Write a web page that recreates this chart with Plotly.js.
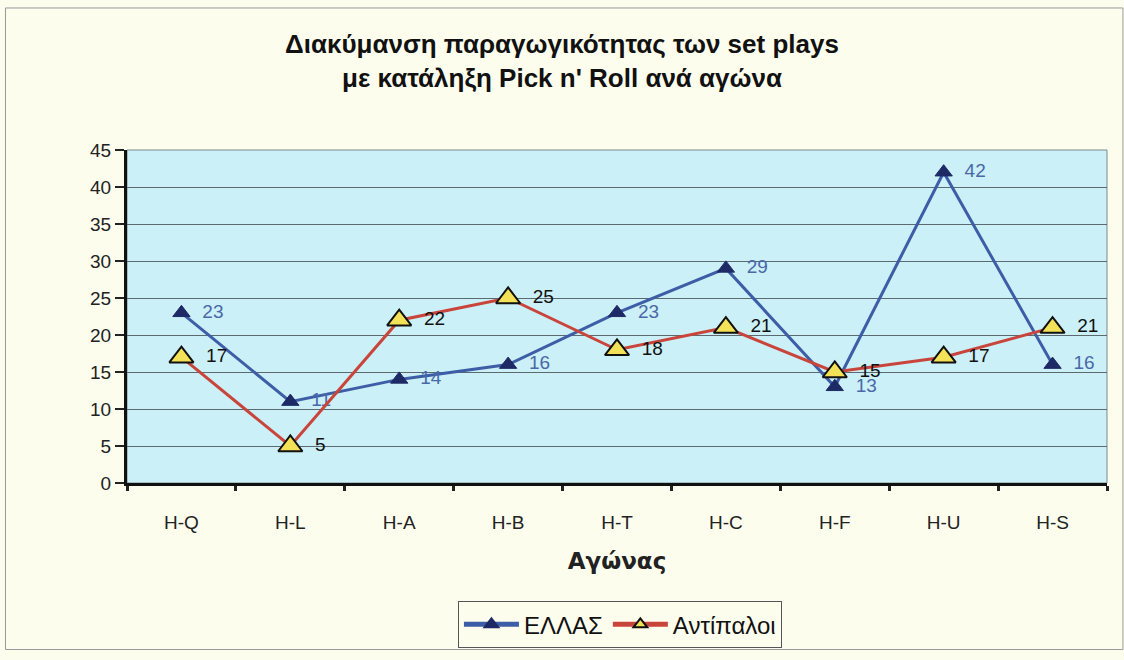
<!DOCTYPE html>
<html>
<head>
<meta charset="utf-8">
<script src="https://cdn.plot.ly/plotly-3.0.1.min.js"></script>
<style>body{margin:0;padding:0;background:#fdfdee;}</style>
</head>
<body>
<div id="chart" style="width:1124px;height:660px;"></div>
<script>
const categories = ["H-Q", "H-L", "H-A", "H-B", "H-T", "H-C", "H-F", "H-U", "H-S"];
const ellasValues = [23, 11, 14, 16, 23, 29, 13, 42, 16];
const opponentValues = [17, 5, 22, 25, 18, 21, 15, 17, 21];
const seriesNames = ["ΕΛΛΑΣ", "Αντίπαλοι"];

const traces = [
  {
    x: categories, y: ellasValues, name: seriesNames[0],
    type: "scatter", mode: "lines+markers+text",
    line: {color: "#3d5ea6", width: 3},
    marker: {symbol: "triangle-up", size: 15, color: "#1e2a66", line: {color: "#1e2a66", width: 1}},
    texttemplate: "  %{y}", textposition: "middle right",
    textfont: {family: "Liberation Sans, Arial, sans-serif", size: 19, color: "#4a68a8"},
    cliponaxis: false
  },
  {
    x: categories, y: opponentValues, name: seriesNames[1],
    type: "scatter", mode: "lines+markers+text",
    line: {color: "#c9453b", width: 3},
    marker: {symbol: "triangle-up", size: 21, color: "#f3e257", line: {color: "#111111", width: 2}},
    texttemplate: "  %{y}", textposition: "middle right",
    textfont: {family: "Liberation Sans, Arial, sans-serif", size: 19, color: "#111111"},
    cliponaxis: false
  }
];

const layout = {
  width: 1124, height: 660,
  paper_bgcolor: "#fdfdee",
  plot_bgcolor: "#cbf0f7",
  margin: {l: 127, r: 17, t: 150, b: 170},
  title: {
    text: "Διακύμανση παραγωγικότητας των set plays<br>με κατάληξη Pick n' Roll ανά αγώνα",
    font: {family: "Liberation Sans, Arial, sans-serif", size: 26, color: "#111111", weight: "bold"},
    x: 0.5, xanchor: "center", y: 0.92, yanchor: "middle", yref: "container"
  },
  xaxis: {
    type: "category",
    tickson: "boundaries",
    ticks: "outside", ticklen: 5, tickwidth: 3, tickcolor: "#222",
    showgrid: false, zeroline: false,
    showline: true, linecolor: "#111", linewidth: 3,
    tickfont: {family: "Liberation Sans, Arial, sans-serif", size: 19, color: "#222"},
    ticklabelstandoff: 20,
    title: {text: "Αγώνας", font: {family: "DejaVu Sans, Verdana, sans-serif", size: 23, color: "#222", weight: "bold"}, standoff: 22},
    range: [-0.5, 8.5]
  },
  yaxis: {
    range: [0, 45], dtick: 5,
    ticks: "outside", ticklen: 9, tickwidth: 2, tickcolor: "#222",
    showgrid: true, gridcolor: "#5a6a6e", gridwidth: 1,
    zeroline: false,
    showline: true, linecolor: "#111", linewidth: 3,
    tickfont: {family: "Liberation Sans, Arial, sans-serif", size: 19, color: "#222"}
  },
  showlegend: true,
  legend: {
    orientation: "h", x: 0.503, xanchor: "center", y: -0.355, yanchor: "top",
    bordercolor: "#555", borderwidth: 1, bgcolor: "#fdfdee",
    font: {family: "Liberation Sans, Arial, sans-serif", size: 24, color: "#111"},
    itemsizing: "constant", itemwidth: 55, tracegroupgap: 0
  },
  shapes: [
    {type: "rect", xref: "paper", yref: "paper", x0: 0, x1: 1, y0: 0, y1: 1, line: {color: "#7a8a8a", width: 1}, layer: "below"},
    {type: "rect", xref: "paper", yref: "paper", x0: -0.124, x1: 1.0163, y0: -0.5, y1: 1.4265, line: {color: "#999", width: 1}}
  ]
};

Plotly.newPlot("chart", traces, layout, {displayModeBar: false, staticPlot: true});
</script>
</body>
</html>
